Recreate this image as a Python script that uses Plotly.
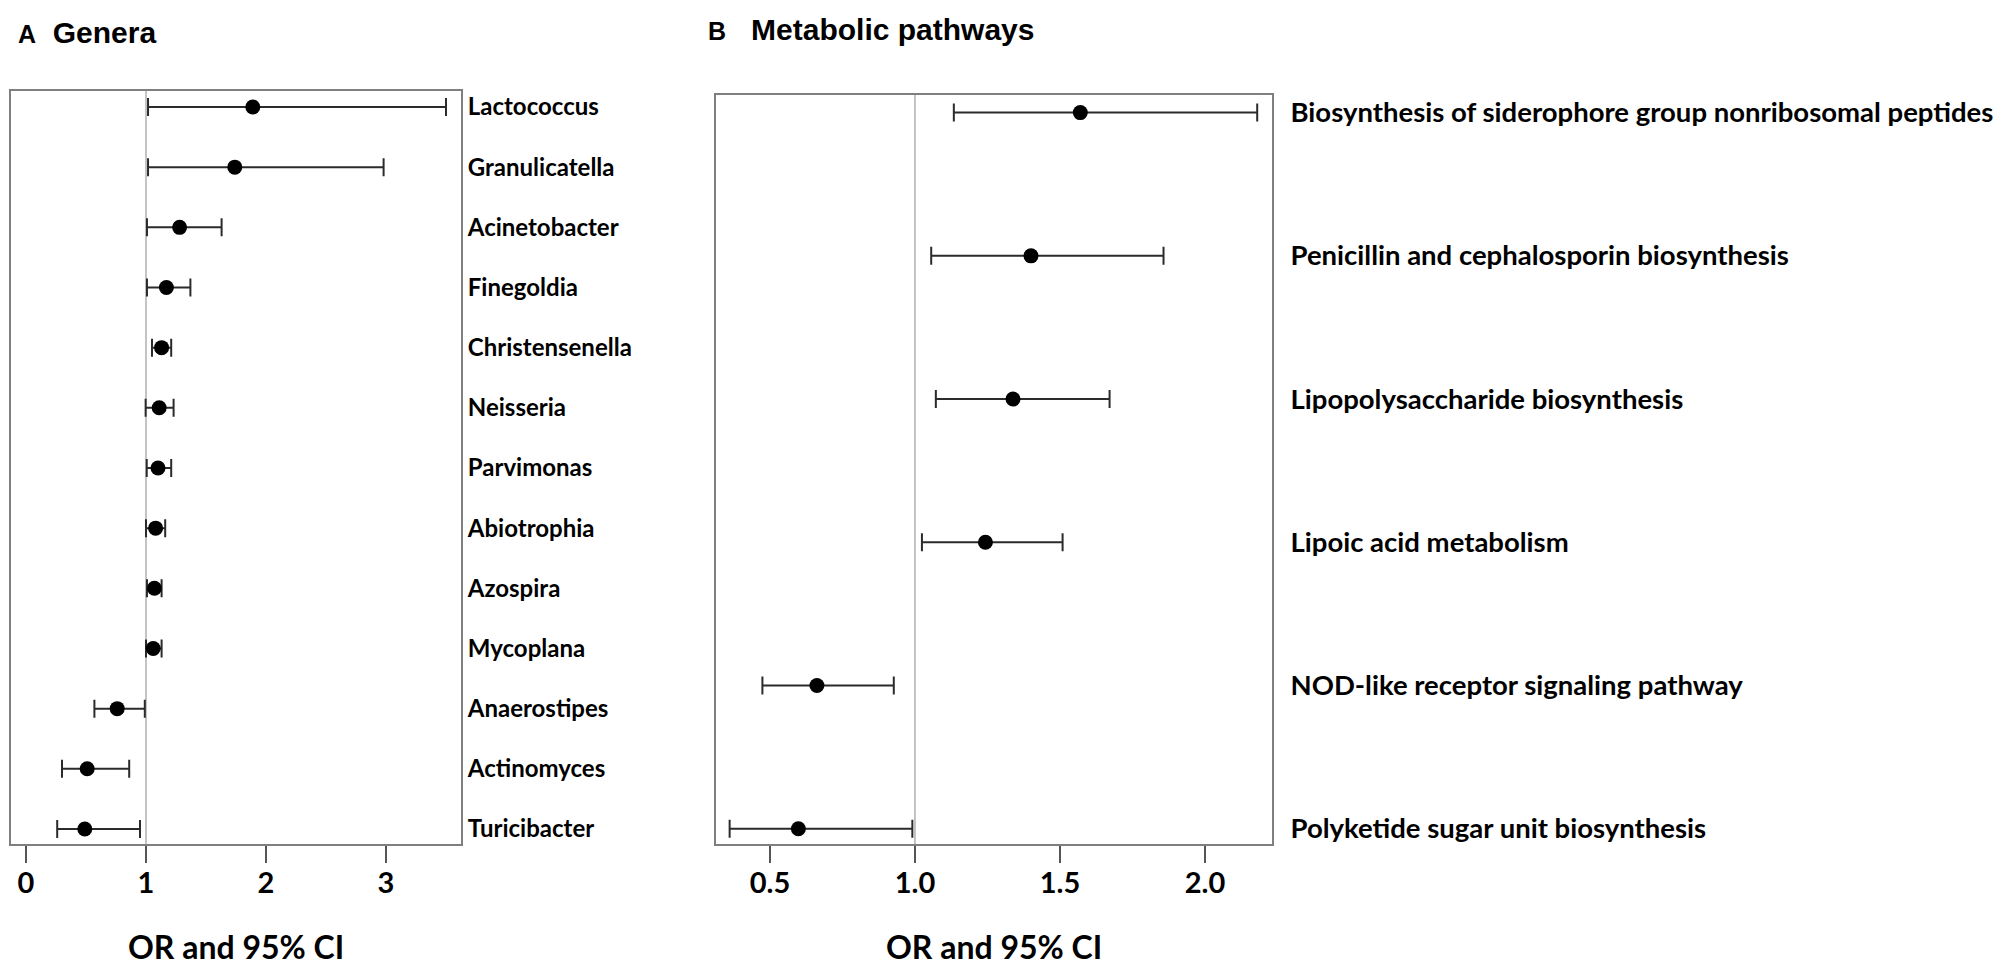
import plotly.graph_objects as go

# Panel A: genera (top to bottom)
genera = ["Lactococcus", "Granulicatella", "Acinetobacter", "Finegoldia", "Christensenella",
          "Neisseria", "Parvimonas", "Abiotrophia", "Azospira", "Mycoplana",
          "Anaerostipes", "Actinomyces", "Turicibacter"]
genera_or = [1.89, 1.74, 1.28, 1.17, 1.13, 1.11, 1.10, 1.08, 1.07, 1.06, 0.76, 0.51, 0.49]
genera_lo = [1.017, 1.017, 1.008, 1.008, 1.05, 0.997, 1.006, 1.0, 1.008, 1.0, 0.57, 0.30, 0.26]
genera_hi = [3.50, 2.98, 1.63, 1.37, 1.21, 1.23, 1.21, 1.16, 1.13, 1.13, 0.99, 0.86, 0.95]

# Panel B: metabolic pathways (top to bottom)
pathways = ["Biosynthesis of siderophore group nonribosomal peptides",
            "Penicillin and cephalosporin biosynthesis",
            "Lipopolysaccharide biosynthesis",
            "Lipoic acid metabolism",
            "NOD-like receptor signaling pathway",
            "Polyketide sugar unit biosynthesis"]
path_or = [1.57, 1.40, 1.338, 1.243, 0.662, 0.598]
path_lo = [1.134, 1.056, 1.072, 1.024, 0.474, 0.361]
path_hi = [2.18, 1.857, 1.671, 1.509, 0.927, 0.991]

a_ticks = [0, 1, 2, 3]
b_ticks = [0.5, 1.0, 1.5, 2.0]
b_ticktext = ["0.5", "1.0", "1.5", "2.0"]

W, H = 2009, 968
genus_font = dict(family="Lato", size=24, color="black", weight="bold")
path_font = dict(family="Lato", size=27.5, color="black", weight="bold")
tick_font = dict(family="Lato", size=29, color="black", weight="bold")
frame = "#7f7f7f"


def forest(x, lo, hi, cats, xa, ya):
    return go.Scatter(
        x=x, y=cats, mode="markers", xaxis=xa, yaxis=ya,
        marker=dict(color="black", size=15),
        error_x=dict(type="data", symmetric=False,
                     array=[h - v for h, v in zip(hi, x)],
                     arrayminus=[v - l for v, l in zip(x, lo)],
                     color="#2b2b2b", thickness=2, width=9),
        showlegend=False, hoverinfo="skip")


fig = go.Figure()
fig.add_trace(forest(genera_or, genera_lo, genera_hi, genera, "x", "y"))
fig.add_trace(forest(path_or, path_lo, path_hi, pathways, "x2", "y2"))


def px_to_dom_y(top, bottom):
    return [(H - bottom) / H, (H - top) / H]


axis_common = dict(showline=True, linecolor=frame, linewidth=2, mirror=True,
                   showgrid=False, zeroline=False)

fig.update_layout(
    width=W, height=H,
    margin=dict(l=0, r=0, t=0, b=0),
    paper_bgcolor="white", plot_bgcolor="white",
    xaxis=dict(domain=[3 / W, 453 / W], range=[-0.125, 3.625], anchor="y",
               tickmode="array", tickvals=a_ticks, ticks="outside", ticklen=17,
               tickcolor="#555555", tickwidth=2, tickfont=tick_font,
               ticklabelstandoff=-5, **axis_common),
    yaxis=dict(domain=px_to_dom_y(83, 836), anchor="x", side="right",
               type="category", categoryorder="array", categoryarray=genera,
               range=[12.25, -0.266], ticks="", tickfont=genus_font,
               ticklabelstandoff=0, **axis_common),
    xaxis2=dict(domain=[708 / W, 1264 / W], range=[0.314, 2.231], anchor="y2",
                tickmode="array", tickvals=b_ticks, ticktext=b_ticktext,
                ticks="outside", ticklen=17, tickcolor="#555555", tickwidth=2,
                tickfont=tick_font, ticklabelstandoff=-5, **axis_common),
    yaxis2=dict(domain=px_to_dom_y(87, 836), anchor="x2", side="right",
                type="category", categoryorder="array", categoryarray=pathways,
                range=[5.107, -0.123], ticks="", tickfont=path_font,
                ticklabelstandoff=11, **axis_common),
)

# reference line at OR = 1
for xr, yr in [("x", "y domain"), ("x2", "y2 domain")]:
    fig.add_shape(type="line", xref=xr, yref=yr, x0=1, x1=1, y0=0, y1=1,
                  line=dict(color="#b0b0b0", width=1.5), layer="below")

# panel titles and axis titles
title_font = dict(family="Liberation Sans", size=30, color="black")
fig.add_annotation(x=8 / W, y=1 - 24 / H, xref="paper", yref="paper", xanchor="left",
                   yanchor="middle", showarrow=False,
                   text="<b><span style='font-size:25px'>A</span>  Genera</b>", font=title_font)
fig.add_annotation(x=698 / W, y=1 - 22 / H, xref="paper", yref="paper", xanchor="left",
                   yanchor="middle", showarrow=False,
                   text="<b><span style='font-size:25px'>B</span>   Metabolic pathways</b>", font=title_font)
for xc in [(3 + 453) / 2 / W, (708 + 1264) / 2 / W]:
    fig.add_annotation(x=xc, y=1 - 938 / H, xref="paper", yref="paper", showarrow=False,
                       xanchor="center", yanchor="middle", text="<b>OR and 95% CI</b>",
                       font=dict(family="Lato", size=32, color="black"))

fig.write_html("out.html")
